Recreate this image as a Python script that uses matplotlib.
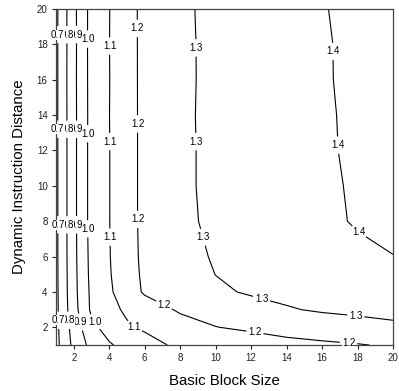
import numpy as np
import matplotlib
matplotlib.use("Agg")
import matplotlib.pyplot as plt

plt.rcParams['font.family'] = ['Liberation Sans', 'DejaVu Sans']

# grid of basic block size (x) and dynamic instruction distance (y)
block_size = [1, 2, 3, 4, 5, 6, 8, 10, 12, 14, 16, 18, 20]
instr_dist = [1, 2, 3, 4, 5, 6, 8, 10, 12, 14, 16, 18, 20]

# speedup values, one row per instruction distance
speedup = [
    [0.672, 0.825, 0.930, 0.990, 1.030, 1.065, 1.120, 1.135, 1.155, 1.175, 1.185, 1.195, 1.210],  # 1
    [0.675, 0.842, 0.975, 1.040, 1.090, 1.113, 1.156, 1.198, 1.215, 1.232, 1.248, 1.264, 1.280],  # 2
    [0.677, 0.863, 1.017, 1.077, 1.113, 1.147, 1.213, 1.235, 1.264, 1.293, 1.310, 1.320, 1.330],  # 3
    [0.678, 0.870, 1.021, 1.086, 1.151, 1.212, 1.242, 1.285, 1.310, 1.322, 1.335, 1.348, 1.360],  # 4
    [0.679, 0.872, 1.027, 1.093, 1.158, 1.218, 1.255, 1.301, 1.316, 1.332, 1.348, 1.364, 1.380],  # 5
    [0.680, 0.874, 1.030, 1.096, 1.161, 1.222, 1.262, 1.310, 1.323, 1.342, 1.361, 1.380, 1.398],  # 6
    [0.680, 0.875, 1.035, 1.098, 1.163, 1.225, 1.285, 1.314, 1.338, 1.360, 1.380, 1.408, 1.430],  # 8
    [0.680, 0.875, 1.035, 1.098, 1.163, 1.225, 1.287, 1.316, 1.341, 1.364, 1.385, 1.410, 1.435],  # 10
    [0.680, 0.875, 1.035, 1.098, 1.163, 1.225, 1.287, 1.316, 1.342, 1.366, 1.390, 1.412, 1.438],  # 12
    [0.681, 0.875, 1.034, 1.099, 1.162, 1.226, 1.288, 1.316, 1.342, 1.367, 1.391, 1.413, 1.440],  # 14
    [0.680, 0.876, 1.035, 1.098, 1.164, 1.225, 1.286, 1.317, 1.343, 1.368, 1.393, 1.415, 1.442],  # 16
    [0.681, 0.875, 1.036, 1.099, 1.163, 1.226, 1.287, 1.316, 1.342, 1.368, 1.393, 1.416, 1.443],  # 18
    [0.680, 0.876, 1.035, 1.098, 1.164, 1.226, 1.288, 1.317, 1.343, 1.369, 1.396, 1.418, 1.445],  # 20
]

levels = [0.7, 0.8, 0.9, 1.0, 1.1, 1.2, 1.3, 1.4]

# where the contour labels sit
label_spots = [
    (1.1, 18.55), (1.62, 18.55), (2.16, 18.55), (2.78, 18.3), (4.07, 17.9), (5.6, 18.9), (8.9, 17.8), (16.6, 17.6),
    (1.1, 13.2), (1.62, 13.2), (2.16, 13.2), (2.78, 12.95), (4.07, 12.5), (5.6, 13.5), (8.9, 12.5), (16.9, 12.3),
    (1.1, 7.8), (1.62, 7.8), (2.16, 7.8), (2.78, 7.57), (4.07, 7.1), (5.6, 8.1), (9.3, 7.1), (18.0, 7.3),
    (1.15, 2.4), (1.75, 2.4), (2.4, 2.3), (3.1, 2.25), (5.35, 1.96), (7.0, 3.1),
    (12.2, 1.62), (17.5, 1.19), (12.6, 3.66), (17.9, 2.6),
]

X, Y = np.meshgrid(block_size, instr_dist)
Z = np.array(speedup)

fig = plt.figure(figsize=(3.99, 3.91), dpi=100)
ax = fig.add_axes([0.1404, 0.1176, 0.8446, 0.8594])

cs = ax.contour(X, Y, Z, levels=levels, colors='black', linewidths=0.8)
texts = ax.clabel(cs, fmt='%.1f', fontsize=7, inline=True, inline_spacing=2,
                  manual=label_spots)
# lower levels drawn on top, so the crowded labels on the left read 0.7.8.9
for t in texts:
    t.set_rotation(0)
    t.set_clip_on(False)
    lev = float(t.get_text())
    t.set_bbox(dict(facecolor='white', edgecolor='none', pad=0.1))
    t.set_zorder(10 - lev)

ax.set_xlim(1, 20)
ax.set_ylim(1, 20)
ax.set_xticks(range(2, 21, 2))
ax.set_yticks(range(2, 21, 2))
ax.tick_params(direction='out', length=3, width=0.8, labelsize=7, colors='#222222', pad=3)
for s in ax.spines.values():
    s.set_color('#444444')
    s.set_linewidth(0.9)

ax.set_xlabel('Basic Block Size', fontsize=10.8, labelpad=8)
ax.set_ylabel('Dynamic Instruction Distance', fontsize=10.8, labelpad=8)

fig.savefig('out.png', dpi=100)
